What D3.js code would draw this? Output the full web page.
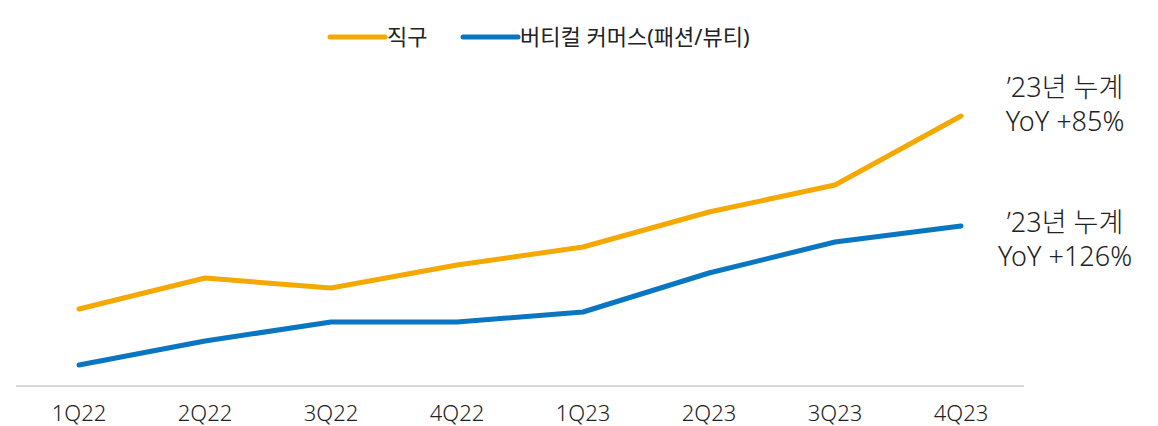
<!DOCTYPE html>
<html>
<head>
<meta charset="utf-8">
<script src="https://cdn.jsdelivr.net/npm/d3@7/dist/d3.min.js"></script>
<style>
  html, body { margin: 0; padding: 0; background: #fff; }
  svg { display: block; font-family: "Noto Sans", "Noto Sans CJK KR", sans-serif; }
</style>
</head>
<body>
<div id="chart"></div>
<script>
// ── data ─────────────────────────────────────────────────────
const quarters = ['1Q22', '2Q22', '3Q22', '4Q22', '1Q23', '2Q23', '3Q23', '4Q23'];
const directValues   = [76, 107, 97, 120, 138, 173, 200, 269];   // 직구 (index)
const verticalValues = [20, 44, 63, 63, 73, 112, 143, 159];      // 버티컬 커머스 (index)
const seriesNames  = ['직구', '버티컬 커머스(패션/뷰티)'];
const annotations  = [
  ['’23년 누계', 'YoY +85%'],
  ['’23년 누계', 'YoY +126%'],
];

// ── layout ───────────────────────────────────────────────────
const W = 1158, H = 426;
const axisY = 386;

const svg = d3.select('#chart').append('svg')
  .attr('width', W).attr('height', H);

const x = d3.scalePoint().domain(quarters).range([16, 1024]).padding(0.5);
const y = d3.scaleLinear().domain([0, 300]).range([axisY - 1, axisY - 301]);

// baseline
svg.append('line')
  .attr('x1', 16).attr('x2', 1024)
  .attr('y1', axisY).attr('y2', axisY)
  .attr('stroke', '#d9d9d9').attr('stroke-width', 2);

// x labels
svg.append('g').selectAll('text').data(quarters).join('text')
  .attr('x', d => x(d)).attr('y', 421)
  .attr('text-anchor', 'middle')
  .attr('font-size', 22).attr('font-weight', 300).attr('fill', '#222')
  .text(d => d);

// ── lines ────────────────────────────────────────────────────
const series = [
  { name: seriesNames[0], values: directValues,   color: '#f5a800' },
  { name: seriesNames[1], values: verticalValues, color: '#0a76c1' },
];

const line = d3.line().x((d, i) => x(quarters[i])).y(d => y(d));

svg.append('g').selectAll('path').data(series).join('path')
  .attr('d', d => line(d.values))
  .attr('fill', 'none')
  .attr('stroke', d => d.color)
  .attr('stroke-width', 5)
  .attr('stroke-linecap', 'round')
  .attr('stroke-linejoin', 'round');

// ── annotations ──────────────────────────────────────────────
const annoY = [97, 232];
annotations.forEach((lines, k) => {
  const t = svg.append('text')
    .attr('x', 1065).attr('y', annoY[k])
    .attr('text-anchor', 'middle')
    .attr('font-size', 27).attr('font-weight', 300).attr('fill', '#222');
  lines.forEach((s, j) => {
    t.append('tspan').attr('x', 1065).attr('dy', j === 0 ? 0 : 34).text(s);
  });
});

// ── legend ───────────────────────────────────────────────────
const legendX = [330, 463];
series.forEach((s, i) => {
  const g = svg.append('g').attr('transform', `translate(${legendX[i]},37)`);
  g.append('line').attr('x1', 0).attr('x2', 55)
    .attr('stroke', s.color).attr('stroke-width', 5)
    .attr('stroke-linecap', 'round');
  g.append('text').attr('x', 57).attr('y', 8)
    .attr('font-size', 22).attr('fill', '#222')
    .text(s.name);
});
</script>
</body>
</html>
